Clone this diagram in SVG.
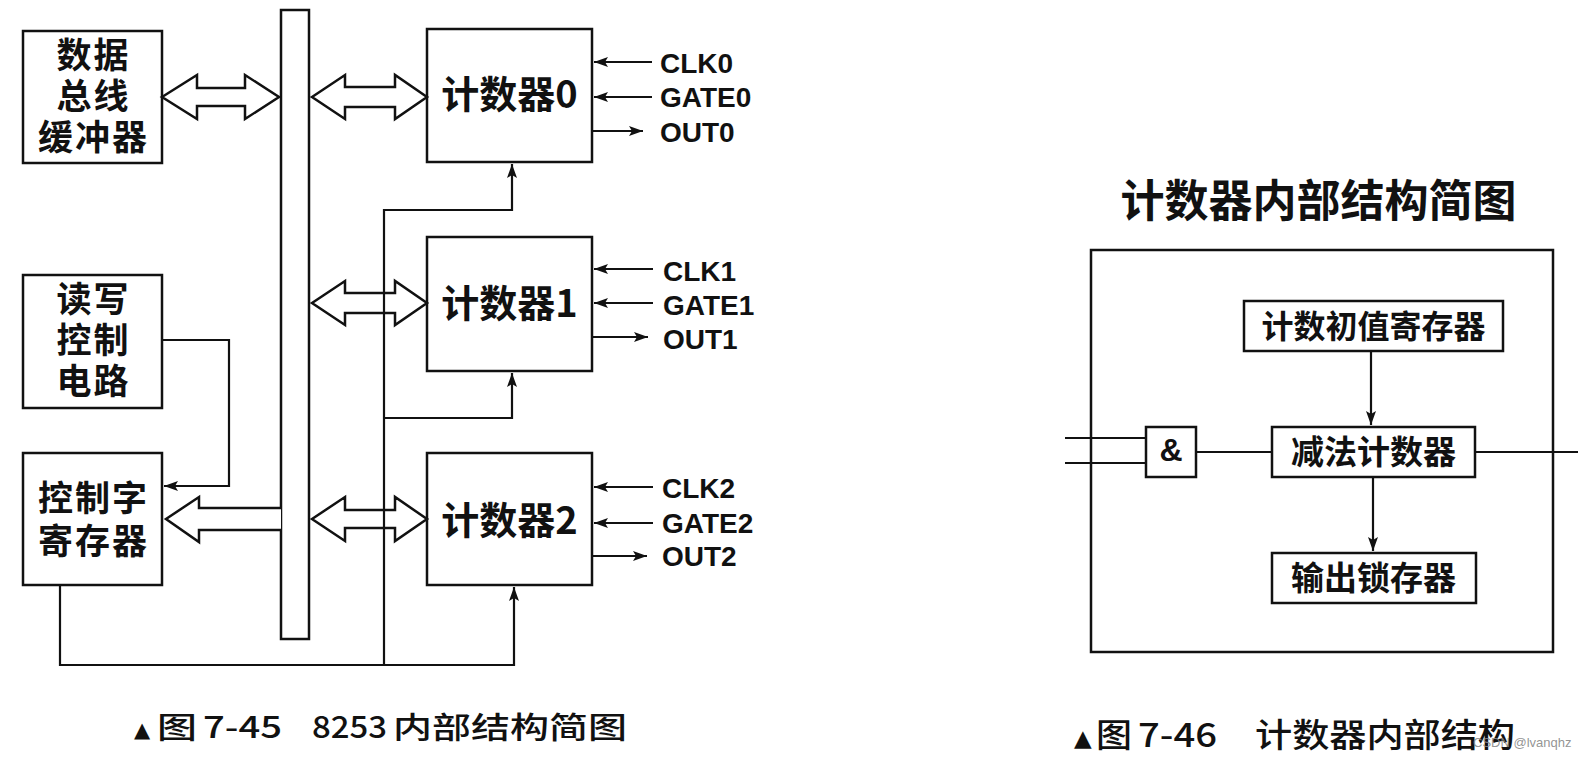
<svg xmlns="http://www.w3.org/2000/svg" width="1586" height="758" viewBox="0 0 1586 758">
<style>
.box{fill:#fff;stroke:#111;stroke-width:2.5}
.ln{fill:none;stroke:#111;stroke-width:2.2}
.big{fill:#fff;stroke:#111;stroke-width:2.5;stroke-linejoin:miter}
.cj{font-family:"Noto Sans CJK SC","Noto Sans CJK TC",sans-serif;font-weight:700;fill:#111;text-anchor:middle}
.bx{font-size:35px;letter-spacing:2px}
.lat{font-family:"Liberation Sans",Arial,sans-serif;font-weight:700;fill:#111;font-size:28px}
.cap{font-family:"Noto Sans CJK SC","Noto Sans CJK TC",sans-serif;font-weight:500;fill:#111}
</style>
<defs>
<marker id="ah" markerUnits="userSpaceOnUse" markerWidth="15" markerHeight="11" refX="14" refY="5" orient="auto">
<path d="M0,0 L14,5 L0,10 L3,5 z" fill="#111"/>
</marker>
</defs>
<rect width="1586" height="758" fill="#fff"/>

<g id="bus"><rect class="box" x="281" y="10" width="28" height="629"/></g>

<g id="dbb">
<rect class="box" x="23" y="31" width="139" height="132"/>
<text class="cj bx" x="93.5" y="68"><tspan x="93.5" y="68">数据</tspan><tspan x="93.5" y="109">总线</tspan><tspan x="93.5" y="150">缓冲器</tspan></text>
</g>

<g id="rwc">
<rect class="box" x="23" y="275" width="139" height="133"/>
<text class="cj bx" x="93.5" y="312"><tspan x="93.5" y="312">读写</tspan><tspan x="93.5" y="353">控制</tspan><tspan x="93.5" y="394">电路</tspan></text>
</g>

<g id="cwr">
<rect class="box" x="23" y="453" width="139" height="132"/>
<text class="cj bx" x="93.5" y="511"><tspan x="93.5" y="511">控制字</tspan><tspan x="93.5" y="554">寄存器</tspan></text>
</g>

<g id="cnt0">
<rect class="box" x="427" y="29" width="165" height="133"/>
<text class="cj" font-size="38" x="509.5" y="107.5">计数器0</text>
</g>
<g id="cnt1">
<rect class="box" x="427" y="237" width="165" height="134"/>
<text class="cj" font-size="38" x="509.5" y="316.5">计数器1</text>
</g>
<g id="cnt2">
<rect class="box" x="427" y="453" width="165" height="132"/>
<text class="cj" font-size="38" x="509.5" y="533.5">计数器2</text>
</g>

<g id="signals">
<text class="lat" x="660" y="73">CLK0</text>
<text class="lat" x="660" y="107">GATE0</text>
<text class="lat" x="660" y="142">OUT0</text>
<text class="lat" x="663" y="281">CLK1</text>
<text class="lat" x="663" y="315">GATE1</text>
<text class="lat" x="663" y="349">OUT1</text>
<text class="lat" x="662" y="498">CLK2</text>
<text class="lat" x="662" y="533">GATE2</text>
<text class="lat" x="662" y="566">OUT2</text>
</g>

<g id="connectors">
<path class="big" d="M162,97 L197,75 L197,88 L245,88 L245,75 L279,97 L245,119 L245,106 L197,106 L197,119 Z"/>
<path class="big" d="M312,97 L345,75 L345,87 L395,87 L395,75 L427,97 L395,119 L395,107 L345,107 L345,119 Z"/>
<path class="big" d="M312,303 L345,281 L345,293 L395,293 L395,281 L427,303 L395,325 L395,313 L345,313 L345,325 Z"/>
<path class="big" d="M312,519 L345,497 L345,510 L395,510 L395,497 L427,519 L395,541 L395,528 L345,528 L345,541 Z"/>
<path class="big" d="M281,508 L199,508 L199,497 L166,519 L199,542 L199,530 L281,530"/>

<path class="ln" d="M162,340 L229,340 L229,486 L164,486" marker-end="url(#ah)"/>
<path class="ln" d="M60,585 L60,665 L514,665 L514,587" marker-end="url(#ah)"/>
<path class="ln" d="M384,665 L384,210 L512,210 L512,164" marker-end="url(#ah)"/>
<path class="ln" d="M384,418 L512,418 L512,373" marker-end="url(#ah)"/>

<path class="ln" d="M652,62 L594,62" marker-end="url(#ah)"/>
<path class="ln" d="M652,97 L594,97" marker-end="url(#ah)"/>
<path class="ln" d="M593,131 L643,131" marker-end="url(#ah)"/>
<path class="ln" d="M653,269 L594,269" marker-end="url(#ah)"/>
<path class="ln" d="M653,303 L594,303" marker-end="url(#ah)"/>
<path class="ln" d="M593,337 L648,337" marker-end="url(#ah)"/>
<path class="ln" d="M653,487 L594,487" marker-end="url(#ah)"/>
<path class="ln" d="M653,523 L594,523" marker-end="url(#ah)"/>
<path class="ln" d="M593,556 L647,556" marker-end="url(#ah)"/>

<path class="ln" d="M1065,438 L1146,438 M1065,463 L1146,463"/>
<path class="ln" d="M1196,452 L1272,452"/>
<path class="ln" d="M1475,452 L1578,452"/>
<path class="ln" d="M1371,351 L1371,425" marker-end="url(#ah)"/>
<path class="ln" d="M1373,477 L1373,551" marker-end="url(#ah)"/>
</g>

<g id="title2"><text class="cj" font-size="44" x="1318.5" y="217">计数器内部结构简图</text></g>

<g id="outer"><rect x="1091" y="250" width="462" height="402" fill="none" stroke="#111" stroke-width="2.5"/></g>

<g id="initreg">
<rect class="box" x="1244" y="301" width="259" height="50"/>
<text class="cj" font-size="32" x="1373.5" y="338">计数初值寄存器</text>
</g>
<g id="andgate">
<rect class="box" x="1146" y="427" width="50" height="50"/>
<text x="1171" y="461" font-family="Liberation Sans, Arial, sans-serif" font-weight="700" font-size="32" fill="#111" text-anchor="middle">&amp;</text>
</g>
<g id="downcnt">
<rect class="box" x="1272" y="427" width="203" height="50"/>
<text class="cj" font-size="33" x="1373.5" y="463.5">减法计数器</text>
</g>
<g id="outlatch">
<rect class="box" x="1272" y="553" width="204" height="50"/>
<text class="cj" font-size="33" x="1373.5" y="589.5">输出锁存器</text>
</g>

<g id="caption1">
<text x="134" y="737" font-family="DejaVu Sans, sans-serif" font-size="21" fill="#111">▲</text>
<text class="cap" x="157" y="738" font-size="30" textLength="40" lengthAdjust="spacingAndGlyphs">图</text>
<text class="cap" x="203" y="738" font-size="30" textLength="79" lengthAdjust="spacingAndGlyphs">7-45</text>
<text class="cap" x="312" y="738" font-size="30" textLength="75" lengthAdjust="spacingAndGlyphs">8253</text>
<text class="cap" x="393" y="738" font-size="30" textLength="234" lengthAdjust="spacingAndGlyphs">内部结构简图</text>
</g>
<g id="caption2">
<text x="1074" y="746" font-family="DejaVu Sans, sans-serif" font-size="23" fill="#111">▲</text>
<text class="cap" x="1096" y="747" font-size="33" textLength="36" lengthAdjust="spacingAndGlyphs">图</text>
<text class="cap" x="1138" y="747" font-size="33" textLength="79" lengthAdjust="spacingAndGlyphs">7-46</text>
<text class="cap" x="1255" y="747" font-size="33" textLength="260" lengthAdjust="spacingAndGlyphs">计数器内部结构</text>
<text x="1473" y="747" font-family="Liberation Sans, Arial, sans-serif" font-size="13" fill="#888" fill-opacity="0.9">CSDN @lvanqhz</text>
</g>
</svg>
